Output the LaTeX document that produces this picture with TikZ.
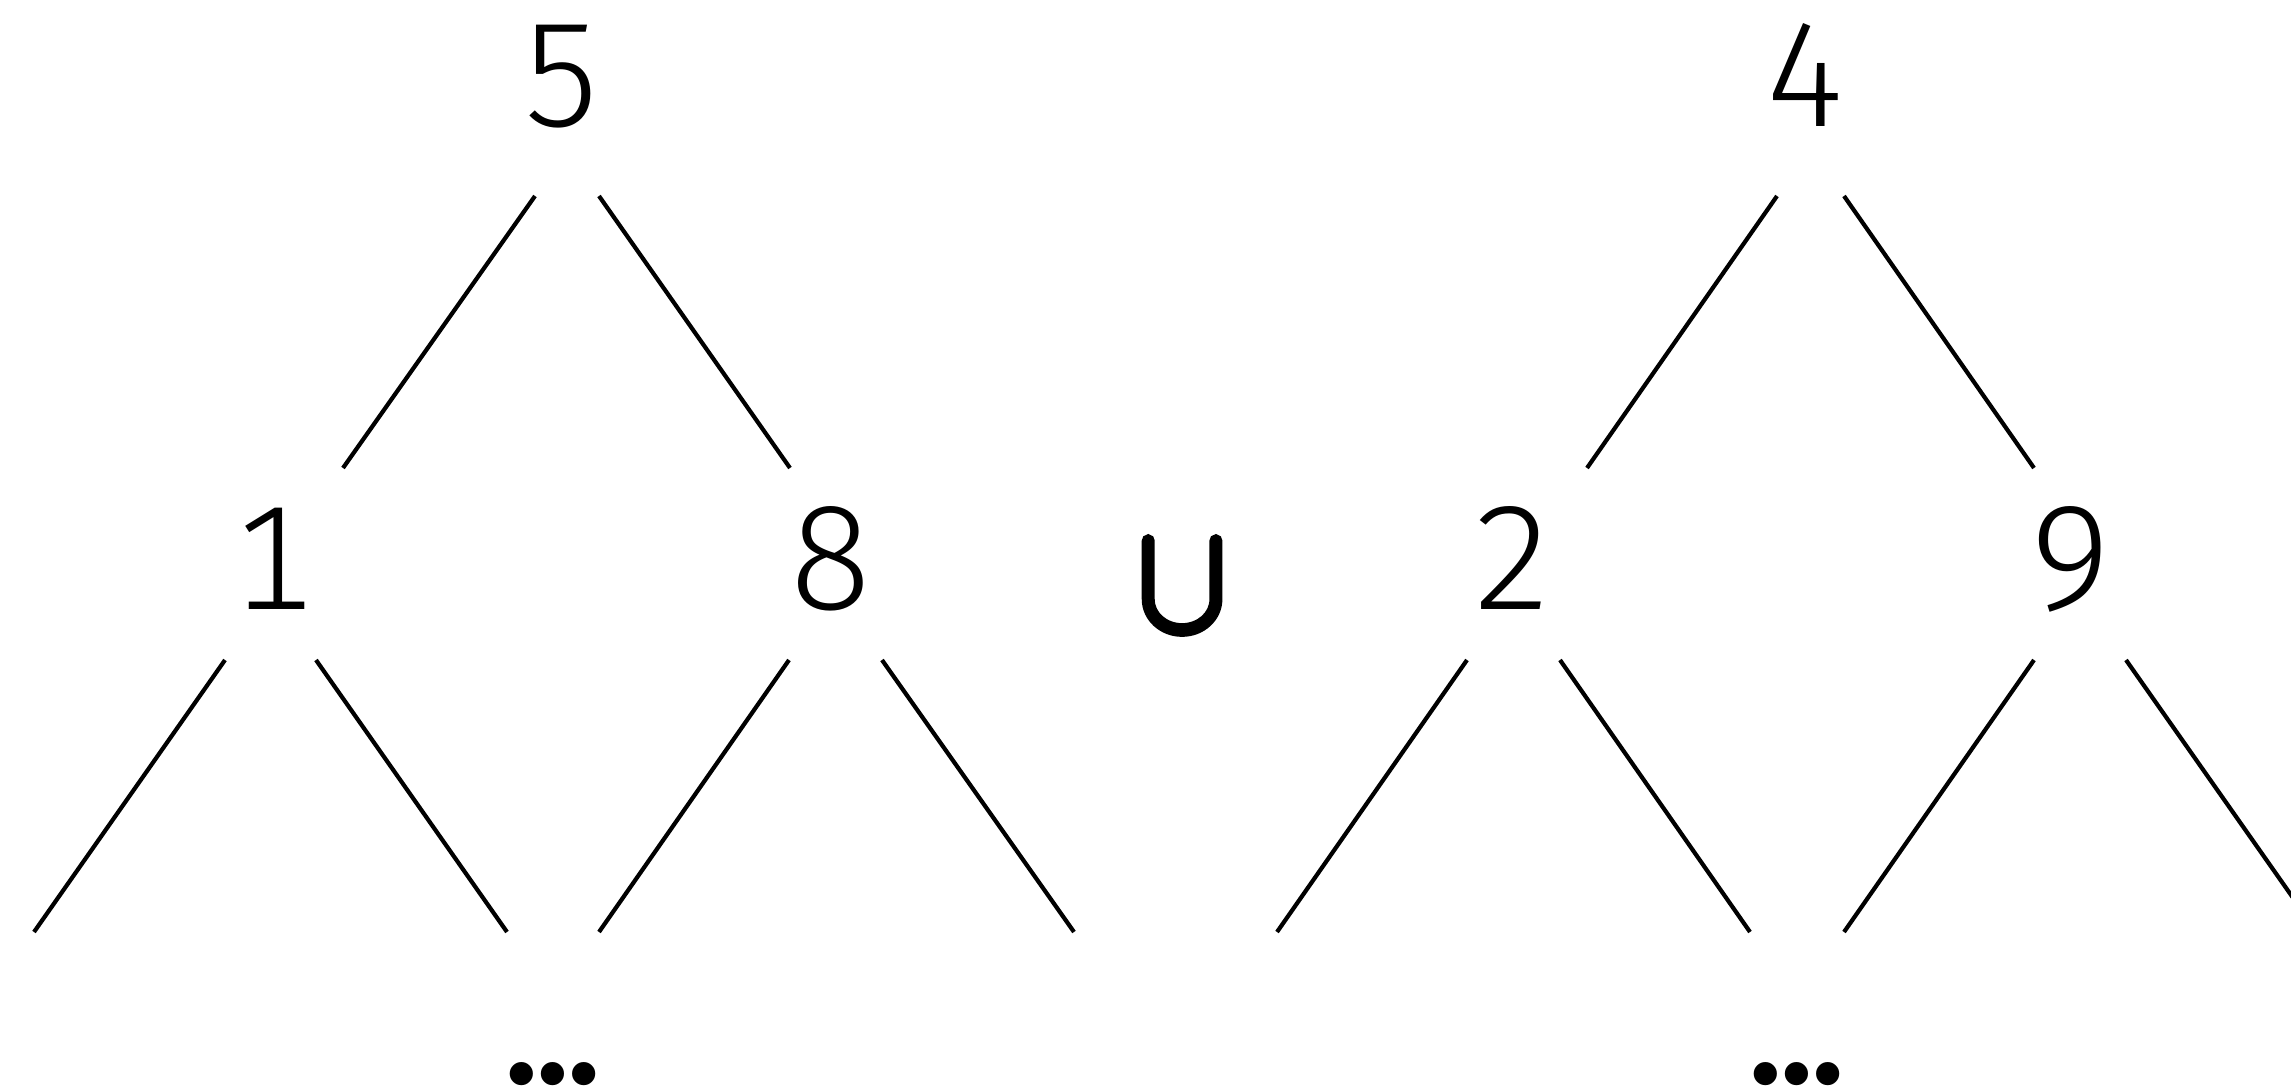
\documentclass[tikz,border=0pt]{standalone}
\usepackage{fontspec}
\setmainfont{Fira Sans}[UprightFont={* Light}, BoldFont={* Bold}, Numbers=Monospaced]
\newfontfamily\symfont[FakeBold=5, FakeStretch=0.88]{latinmodern-math.otf}
\begin{document}
\begin{tikzpicture}[x=1pt,y=-1pt,
  digit/.style={inner sep=0pt, anchor=base, font=\fontsize{148}{170}\selectfont},
  unionsym/.style={inner sep=0pt, anchor=base, text depth=0pt, font=\symfont\fontsize{152}{180}\selectfont},
  ellip/.style={inner sep=0pt, anchor=base, text depth=0pt, font=\bfseries\fontsize{128}{150}\selectfont},
  edge/.style={line width=4.2pt}]
\useasboundingbox (0,0) rectangle (2291,1089);
\clip (0,0) rectangle (2291,1089);

% left tree
\node[digit] (n5) at (562,127) {5};
\node[digit] (n1) at (273,609) {1};
\node[digit] (n8) at (831,609) {8};
% right tree
\node[digit] (n4) at (1806,127) {4};
\node[digit] (n2) at (1513,609) {2};
\node[digit] (n9) at (2072,609) {9};
% union sign between the trees
\node[unionsym] (cup) at (1182,630) {∪};
% continuation marks
\node[ellip] (dl) at (553,1083) {…};
\node[ellip] (dr) at (1797,1083) {…};

% open ends of the lowest edges
\coordinate (l1) at (34,932);
\coordinate (l2) at (507,932);
\coordinate (l3) at (599,932);
\coordinate (l4) at (1074,932);
\coordinate (r1) at (1277,932);
\coordinate (r2) at (1750,932);
\coordinate (r3) at (1844,932);
\coordinate (r4) at (2317,932);

% edges of the left tree
\draw[edge] ([shift={(-27,69)}]n5.base) -- ([shift={(70,-141)}]n1.base);
\draw[edge] ([shift={(37,69)}]n5.base) -- ([shift={(-41,-141)}]n8.base);
\draw[edge] ([shift={(-48,51)}]n1.base) -- (l1);
\draw[edge] ([shift={(43,51)}]n1.base) -- (l2);
\draw[edge] ([shift={(-42,51)}]n8.base) -- (l3);
\draw[edge] ([shift={(51,51)}]n8.base) -- (l4);
% edges of the right tree
\draw[edge] ([shift={(-29,69)}]n4.base) -- ([shift={(74,-141)}]n2.base);
\draw[edge] ([shift={(38,69)}]n4.base) -- ([shift={(-38,-141)}]n9.base);
\draw[edge] ([shift={(-46,51)}]n2.base) -- (r1);
\draw[edge] ([shift={(47,51)}]n2.base) -- (r2);
\draw[edge] ([shift={(-38,51)}]n9.base) -- (r3);
\draw[edge] ([shift={(54,51)}]n9.base) -- (r4);
\end{tikzpicture}
\end{document}
